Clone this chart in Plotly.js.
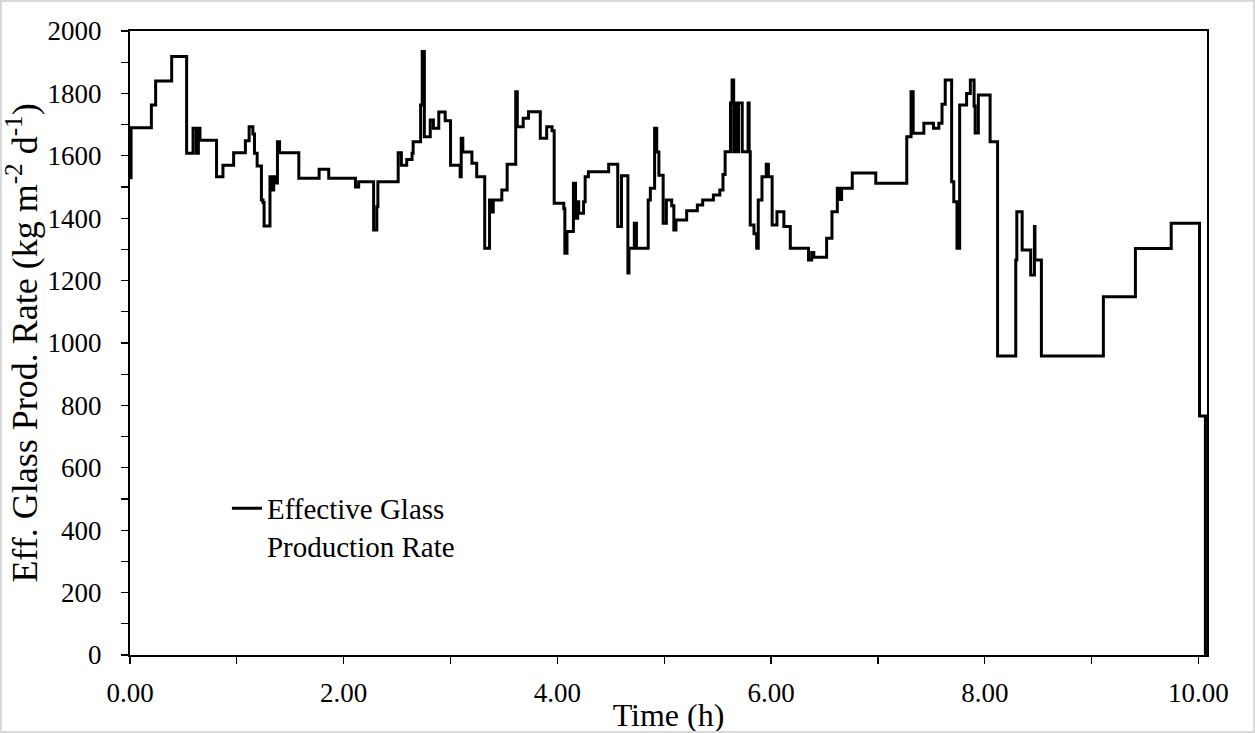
<!DOCTYPE html>
<html>
<head>
<meta charset="utf-8">
<script src="https://cdn.plot.ly/plotly-3.0.1.min.js"></script>
<style>
  html, body { margin: 0; padding: 0; background: #fff; }
  #chart { width: 1255px; height: 733px; }
  #frame { position: absolute; left: 0; top: 0; width: 1255px; height: 733px; box-sizing: border-box; border: 2px solid #d9d9d9; pointer-events: none; }
</style>
</head>
<body>
<div id="chart"></div>
<div id="frame"></div>
<script>
// Time (h) at which each step begins
const timeHours = [
  0, 0.01, 0.20, 0.24, 0.39, 0.53, 0.59, 0.62, 0.64, 0.655,
  0.81, 0.87, 0.97, 1.08, 1.115, 1.15, 1.165, 1.19, 1.23, 1.245,
  1.255, 1.31, 1.33, 1.345, 1.36, 1.38, 1.40, 1.58, 1.77, 1.86,
  2.11, 2.14, 2.28, 2.31, 2.32, 2.51, 2.54, 2.59, 2.64, 2.65,
  2.72, 2.735, 2.755, 2.81, 2.84, 2.89, 2.95, 3.00, 3.09, 3.10,
  3.115, 3.20, 3.245, 3.32, 3.365, 3.38, 3.40, 3.48, 3.53, 3.61,
  3.625, 3.68, 3.73, 3.84, 3.90, 3.95, 3.97, 4.06, 4.07, 4.09,
  4.15, 4.17, 4.19, 4.20, 4.245, 4.26, 4.29, 4.48, 4.565, 4.60,
  4.66, 4.67, 4.72, 4.74, 4.85, 4.87, 4.91, 4.93, 4.95, 4.99,
  5.02, 5.07, 5.09, 5.11, 5.21, 5.31, 5.36, 5.46, 5.52, 5.55,
  5.57, 5.62, 5.635, 5.65, 5.665, 5.68, 5.695, 5.73, 5.785, 5.795,
  5.805, 5.84, 5.865, 5.88, 5.915, 5.955, 5.975, 6.01, 6.055, 6.12,
  6.18, 6.35, 6.38, 6.40, 6.52, 6.57, 6.62, 6.64, 6.66, 6.76,
  6.98, 7.27, 7.31, 7.33, 7.43, 7.52, 7.57, 7.60, 7.63, 7.69,
  7.71, 7.74, 7.765, 7.83, 7.865, 7.90, 7.91, 7.94, 8.05, 8.12,
  8.29, 8.30, 8.35, 8.43, 8.465, 8.47, 8.53, 9.11, 9.41, 9.745,
  10.01, 10.065
];
// Effective glass production rate (kg m-2 d-1)
const glassRate = [
  1530, 1690, 1763, 1840, 1918, 1608, 1688, 1608, 1688, 1650,
  1533, 1570, 1610, 1648, 1693, 1670, 1608, 1567, 1458, 1450,
  1375, 1533, 1490, 1533, 1513, 1645, 1610, 1528, 1557, 1528,
  1500, 1517, 1362, 1437, 1517, 1610, 1570, 1588, 1608, 1645,
  1763, 1934, 1661, 1715, 1688, 1740, 1712, 1570, 1533, 1656,
  1612, 1576, 1533, 1304, 1458, 1420, 1458, 1490, 1573, 1805,
  1693, 1720, 1741, 1656, 1693, 1680, 1448, 1430, 1288, 1357,
  1512, 1400, 1453, 1416, 1453, 1533, 1549, 1573, 1373, 1536,
  1224, 1304, 1384, 1304, 1458, 1496, 1688, 1612, 1538, 1384,
  1458, 1440, 1362, 1394, 1424, 1442, 1458, 1474, 1490, 1540,
  1613, 1769, 1843, 1613, 1769, 1613, 1769, 1613, 1769, 1613,
  1378, 1350, 1304, 1458, 1533, 1573, 1533, 1378, 1421, 1373,
  1304, 1266, 1290, 1275, 1336, 1421, 1496, 1460, 1496, 1545,
  1512, 1661, 1805, 1672, 1704, 1688, 1704, 1765, 1843, 1517,
  1453, 1304, 1763, 1800, 1843, 1760, 1673, 1795, 1645, 958,
  1266, 1421, 1298, 1218, 1373, 1266, 958, 1148, 1303, 1384,
  766, 0
];
const seriesName = "Effective Glass<br>Production Rate";
const xTickVals = [0, 2, 4, 6, 8, 10];
const yTickVals = [0, 200, 400, 600, 800, 1000, 1200, 1400, 1600, 1800, 2000];

const font = "Liberation Serif, Times New Roman, serif";

const trace = {
  x: timeHours,
  y: glassRate,
  type: "scatter",
  mode: "lines",
  line: { shape: "hv", color: "#000", width: 3 },
  name: seriesName,
  showlegend: true
};

const layout = {
  width: 1255,
  height: 733,
  paper_bgcolor: "#fff",
  plot_bgcolor: "#fff",
  margin: { l: 130, r: 48, t: 31, b: 78 },
  font: { family: font, size: 27, color: "#000" },
  showlegend: true,
  legend: {
    x: 0.090, y: 0.276, xanchor: "left", yanchor: "top",
    bgcolor: "rgba(0,0,0,0)", valign: "top",
    font: { family: font, size: 29, color: "#000" }
  },
  xaxis: {
    range: [0, 10.08],
    tickmode: "array",
    tickvals: xTickVals,
    tickformat: ".2f",
    ticks: "outside", ticklen: 7, tickwidth: 1.2, tickcolor: "#000",
    minor: { dtick: 1, ticks: "outside", ticklen: 7, tickwidth: 1.2, tickcolor: "#000" },
    showgrid: false, zeroline: false,
    showline: true, linecolor: "#000", linewidth: 2, mirror: true,
    ticklabelstandoff: 6,
    tickfont: { family: font, size: 27, color: "#000" },
    title: { text: "Time (h)", standoff: 0, font: { family: font, size: 32, color: "#000" } }
  },
  yaxis: {
    range: [0, 2000],
    tickmode: "array",
    tickvals: yTickVals,
    ticks: "outside", ticklen: 7, tickwidth: 1.2, tickcolor: "#000",
    minor: { dtick: 100, ticks: "outside", ticklen: 7, tickwidth: 1.2, tickcolor: "#000" },
    showgrid: false, zeroline: false,
    showline: true, linecolor: "#000", linewidth: 2, mirror: true,
    ticklabelstandoff: 14,
    tickfont: { family: font, size: 27, color: "#000" },
    title: { text: "Eff. Glass Prod. Rate (kg m<sup>-2</sup> d<sup>-1</sup>)", standoff: 0, font: { family: font, size: 36, color: "#000" } }
  }
};

Plotly.newPlot("chart", [trace], layout, { displayModeBar: false, staticPlot: true });
</script>
</body>
</html>
